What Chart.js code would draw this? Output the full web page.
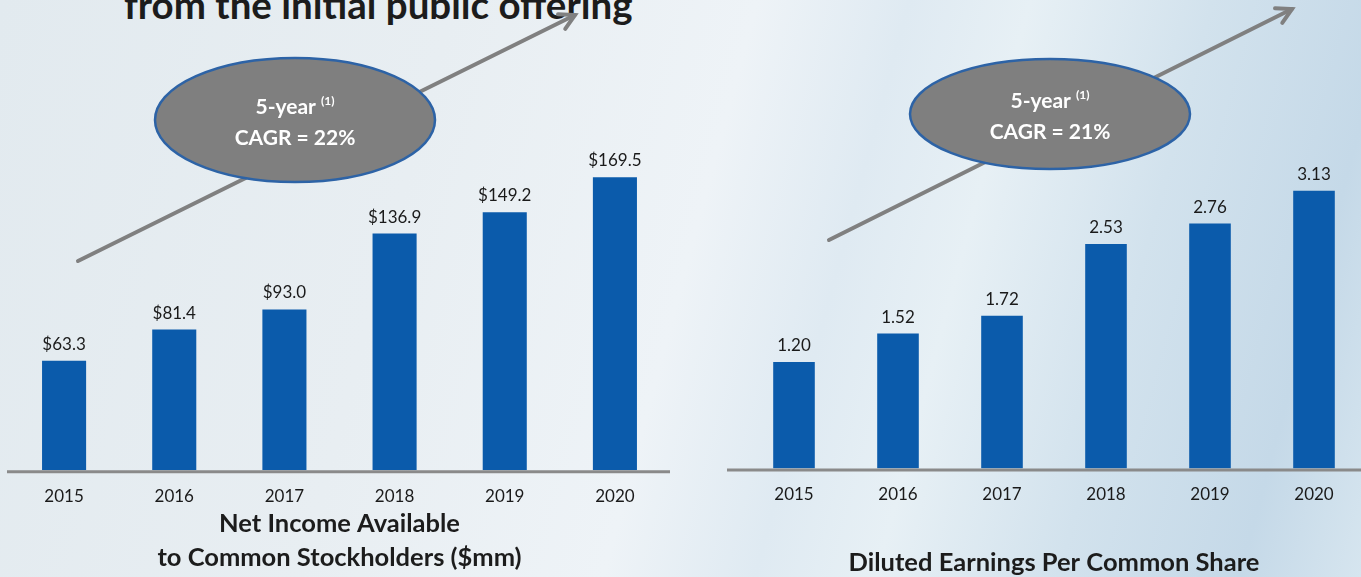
<!DOCTYPE html>
<html>
<head>
<meta charset="utf-8">
<script src="https://cdn.jsdelivr.net/npm/chart.js@4.4.1/dist/chart.umd.min.js"></script>
<style>
    html, body {
        margin: 0;
        padding: 0;
        width: 1361px;
        height: 577px;
        overflow: hidden;
        font-family: Lato, 'Open Sans', sans-serif;
    }
    body {
        position: relative;
        background: linear-gradient(105deg, #e2eaef 0%, #e8eef2 30%, #eef3f7 50%, #dfeaf2 60%, #e7f0f5 68%, #d2e2ed 80%, #c5d9e8 92%, #d6e5ef 100%);
    }
    .headline {
        position: absolute;
        left: 124px;
        top: -15px;
        font: bold 38.5px Lato, sans-serif;
        line-height: 1;
        color: #1c1c1c;
        white-space: nowrap;
    }
    .panel {
        position: absolute;
        top: 0;
        height: 577px;
    }
    #left-panel { left: 0; width: 680px; }
    #right-panel { left: 680px; width: 690px; }
</style>
</head>
<body>
<div class="headline">from the initial public offering</div>
<div class="panel" id="left-panel"><canvas id="income-canvas"></canvas></div>
<div class="panel" id="right-panel"><canvas id="eps-canvas"></canvas></div>

<script>
// --- data ---
const years = ['2015', '2016', '2017', '2018', '2019', '2020'];
const netIncome = [63.3, 81.4, 93.0, 136.9, 149.2, 169.5];
const dilutedEps = [1.20, 1.52, 1.72, 2.53, 2.76, 3.13];
const incomeCagr = '22%';
const epsCagr = '21%';

const BAR_BLUE = '#0b5bab';
const AXIS_GRAY = '#8a8a8a';
const TEXT_DARK = '#1a1a1a';

// value labels above each bar
const valueLabels = {
    id: 'valueLabels',
    afterDatasetsDraw(chart, args, opts) {
        const ctx = chart.ctx;
        const meta = chart.getDatasetMeta(0);
        const values = chart.data.datasets[0].data;
        ctx.save();
        ctx.font = '17px Lato, sans-serif';
        ctx.fillStyle = TEXT_DARK;
        ctx.textAlign = 'center';
        ctx.textBaseline = 'bottom';
        meta.data.forEach((bar, i) => {
            ctx.fillText(opts.format(values[i]), bar.x, bar.y - 8);
        });
        ctx.restore();
    }
};

// baseline under the bars
const baseline = {
    id: 'baseline',
    afterDatasetsDraw(chart, args, opts) {
        const ctx = chart.ctx;
        const y = chart.scales.y.getPixelForValue(0) + 1.5;
        ctx.save();
        ctx.strokeStyle = AXIS_GRAY;
        ctx.lineWidth = 3;
        ctx.beginPath();
        ctx.moveTo(chart.chartArea.left - (opts.extendLeft || 0), y);
        ctx.lineTo(chart.chartArea.right, y);
        ctx.stroke();
        ctx.restore();
    }
};

// growth arrow with the CAGR bubble on top
const growthBadge = {
    id: 'growthBadge',
    beforeDatasetsDraw(chart, args, opts) {
        const ctx = chart.ctx;
        const [x1, y1] = opts.from;
        const [x2, y2] = opts.to;
        ctx.save();

        ctx.strokeStyle = '#808080';
        ctx.lineWidth = 4;
        ctx.lineCap = 'round';
        ctx.beginPath();
        ctx.moveTo(x1, y1);
        ctx.lineTo(x2, y2);
        ctx.stroke();

        const ang = Math.atan2(y2 - y1, x2 - x1);
        const head = 17;
        ctx.beginPath();
        ctx.moveTo(x2 - head * Math.cos(ang - 0.5), y2 - head * Math.sin(ang - 0.5));
        ctx.lineTo(x2, y2);
        ctx.lineTo(x2 - head * Math.cos(ang + 0.5), y2 - head * Math.sin(ang + 0.5));
        ctx.stroke();

        const [cx, cy] = opts.center;
        ctx.beginPath();
        ctx.ellipse(cx, cy, opts.rx, opts.ry, 0, 0, Math.PI * 2);
        ctx.fillStyle = '#7f7f7f';
        ctx.fill();
        ctx.strokeStyle = '#2d63a6';
        ctx.lineWidth = 2.5;
        ctx.stroke();

        ctx.fillStyle = '#ffffff';
        ctx.textBaseline = 'middle';
        const big = 'bold 21px Lato, sans-serif';
        const small = 'bold 12px Lato, sans-serif';
        const main = '5-year ';
        const sup = '(1)';
        ctx.font = big;
        const wMain = ctx.measureText(main).width;
        ctx.font = small;
        const wSup = ctx.measureText(sup).width;
        const startX = cx - (wMain + wSup) / 2;
        ctx.textAlign = 'left';
        ctx.font = big;
        ctx.fillText(main, startX, cy - 13);
        ctx.font = small;
        ctx.fillText(sup, startX + wMain, cy - 19);
        ctx.textAlign = 'center';
        ctx.font = big;
        ctx.fillText('CAGR = ' + opts.cagr, cx, cy + 18);
        ctx.restore();
    }
};

function buildBarChart(canvasId, values, yMax, titleText, titlePadTop, opts) {
    const ctx = document.getElementById(canvasId).getContext('2d');
    return new Chart(ctx, {
        type: 'bar',
        data: {
            labels: years,
            datasets: [{
                data: values,
                backgroundColor: BAR_BLUE,
                borderWidth: 0,
                barPercentage: opts.barPct,
                categoryPercentage: 1.0
            }]
        },
        options: {
            responsive: true,
            maintainAspectRatio: false,
            animation: false,
            layout: {
                padding: { top: 0, left: opts.padLeft, right: opts.padRight, bottom: opts.padBottom }
            },
            plugins: {
                legend: { display: false },
                tooltip: { enabled: false },
                valueLabels: { format: opts.format },
                baseline: { extendLeft: opts.extendLeft },
                growthBadge: opts.badge
            },
            scales: {
                y: {
                    display: false,
                    min: 0,
                    max: yMax
                },
                x: {
                    grid: { display: false, drawTicks: false },
                    border: { display: false },
                    ticks: {
                        padding: 16,
                        color: TEXT_DARK,
                        font: { family: 'Lato, sans-serif', size: 17 }
                    },
                    title: {
                        display: true,
                        text: titleText,
                        color: '#1c1c1c',
                        padding: { top: titlePadTop, bottom: 0 },
                        font: { family: 'Lato, sans-serif', size: 25.5, weight: 'bold', lineHeight: 1.3 }
                    }
                }
            }
        },
        plugins: [growthBadge, baseline, valueLabels]
    });
}

buildBarChart('income-canvas', netIncome, 272,
    ['Net Income Available', 'to Common Stockholders ($mm)'], -15, {
        barPct: 0.4,
        padLeft: 9,
        padRight: 10,
        padBottom: 3,
        extendLeft: 2,
        format: v => '$' + v.toFixed(1),
        badge: { from: [78, 261], to: [575, 15], center: [295, 120], rx: 140, ry: 62, cagr: incomeCagr }
    });

buildBarChart('eps-canvas', dilutedEps, 5.28,
    'Diluted Earnings Per Common Share', 25, {
        barPct: 0.4,
        padLeft: 62,
        padRight: 4,
        padBottom: -2,
        extendLeft: 15,
        format: v => v.toFixed(2),
        badge: { from: [149, 240], to: [612, 9], center: [370, 114], rx: 140, ry: 55, cagr: epsCagr }
    });
</script>
</body>
</html>
